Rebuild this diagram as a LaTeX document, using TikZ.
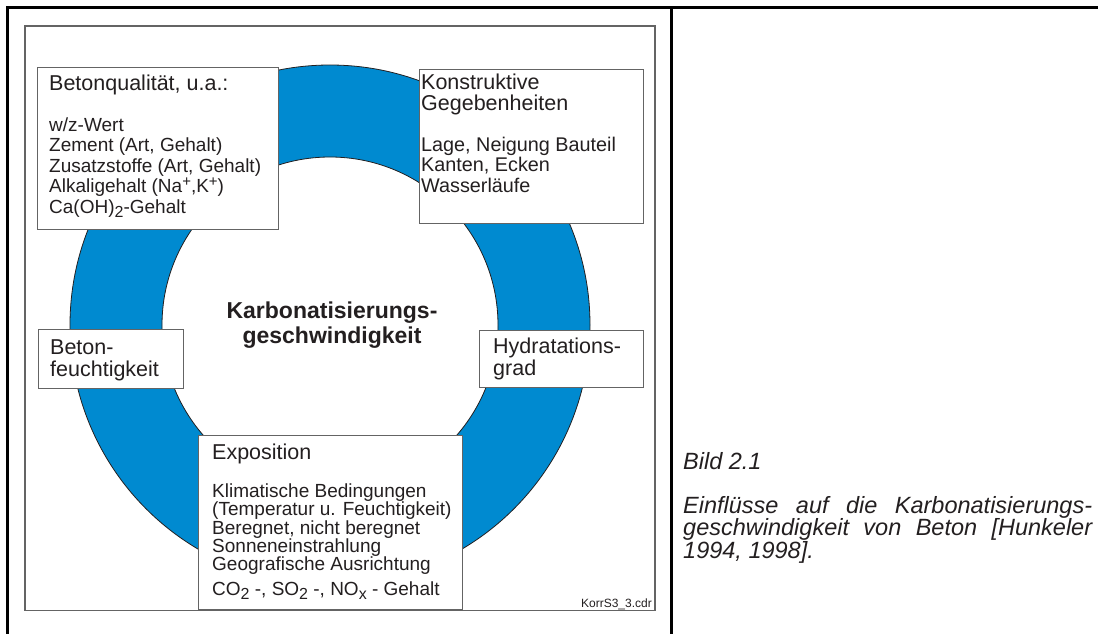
\documentclass[tikz,border=0pt]{standalone}
\usepackage{fontspec}
\setmainfont{Liberation Sans}
\usetikzlibrary{positioning}

\definecolor{ringblau}{RGB}{0,138,208}
\definecolor{schrift}{HTML}{231F20}
\definecolor{rahmengrau}{HTML}{646464}

\newcommand{\tiefzahl}[1]{\raisebox{-4pt}{\fontsize{16}{16}\selectfont #1}}
\newcommand{\hochzahl}[1]{\raisebox{6pt}{\fontsize{15}{15}\selectfont #1}}
\newcommand{\titelzeile}[1]{{\fontsize{21.5}{21.5}\selectfont #1}}

\tikzset{
    kasten/.style={
        draw=rahmengrau, line width=1.2pt, fill=white,
        inner sep=0pt, anchor=north west
    },
    kastentext/.style={
        text=schrift, align=left, inner sep=0pt, anchor=base west,
        font=\fontsize{19}{20.5}\selectfont
    },
}

\begin{document}
\begin{tikzpicture}[x=1pt, y=-1pt]
            \useasboundingbox (0,0) rectangle (1098,634);
            \draw [line width=3pt] (7.5,634) -- (7.5,7.5) -- (1098,7.5);
            \draw [line width=3pt] (671.5,7.5) -- (671.5,634);
            \draw [rahmengrau, line width=1.2pt] (25,26) rectangle (655,610.5);
            \filldraw [fill=ringblau, draw=schrift, line width=0.8pt, even odd rule]
                (330,325) circle (260pt)
                (330,325) circle (168pt)
            ;
            \node [kasten, minimum width=241pt, minimum height=162pt] (qualitaet) at (37,67) {};
            \node [kasten, minimum width=224pt, minimum height=154pt] (konstruktiv) at (419,69) {};
            \node [kasten, minimum width=145pt, minimum height=59pt] (feuchte) at (38,329) {};
            \node [kasten, minimum width=164pt, minimum height=57pt] (hydratation) at (479,330) {};
            \node [kasten, minimum width=264pt, minimum height=174pt] (exposition) at (198,435) {};
            \node [kastentext] (qualitaet-text) at ([xshift=12pt, yshift=-146pt]qualitaet.north west) {
                \titelzeile{Betonqualität, u.a.:}\\[20.5pt]
                w/z-Wert\\
                Zement (Art, Gehalt)\\
                Zusatzstoffe (Art, Gehalt)\\
                Alkaligehalt (Na\hochzahl{+},K\hochzahl{+})\\
                Ca(OH)\tiefzahl{2}-Gehalt
            };
            \node [kastentext, font=\fontsize{19.8}{20.5}\selectfont] (konstruktiv-text)
                at ([xshift=2pt, yshift=-123pt]konstruktiv.north west) {
                \titelzeile{Konstruktive}\\
                \titelzeile{Gegebenheiten}\\[20.5pt]
                Lage, Neigung Bauteil\\
                Kanten, Ecken\\
                Wasserläufe
            };
            \node [kastentext, font=\fontsize{21.5}{21.5}\selectfont] (feuchte-text)
                at ([xshift=12pt, yshift=-47pt]feuchte.north west) {
                Beton-\\
                feuchtigkeit
            };
            \node [kastentext, font=\fontsize{21.5}{22}\selectfont] (hydratation-text)
                at ([xshift=14pt, yshift=-45pt]hydratation.north west) {
                Hydratations-\\
                grad
            };
            \node [kastentext, font=\fontsize{19}{18.3}\selectfont] (exposition-text)
                at ([xshift=14pt, yshift=-160pt]exposition.north west) {
                \titelzeile{Exposition}\\[19.7pt]
                Klimatische Bedingungen\\
                (Temperatur u. Feuchtigkeit)\\
                Beregnet, nicht beregnet\\
                Sonneneinstrahlung\\
                Geografische Ausrichtung\\[6pt]
                CO\tiefzahl{2} -, SO\tiefzahl{2} -, NO\tiefzahl{x} - Gehalt
            };
            \node [text=schrift, align=center, inner sep=0pt, anchor=base,
                font=\fontsize{23}{25}\selectfont\bfseries] (karbonatisierung) at (332,343) {
                Karbonatisierungs-\\
                geschwindigkeit
            };
            \node [text=schrift, inner sep=0pt, anchor=base east,
                font=\fontsize{12}{12}\selectfont] (datei) at (652,607.5) {KorrS3\_3.cdr};
            \node [text=schrift, inner sep=0pt, anchor=base west,
                font=\fontsize{23.5}{21.5}\selectfont\itshape] (bild) at (683,469) {Bild 2.1};
            \node [text=schrift, inner sep=0pt, anchor=base west, text width=409pt, align=justify,
                font=\fontsize{23.5}{21.5}\selectfont\itshape] (bildtext) at (683,513) {
                Einflüsse auf die Karbonatisierungs-\linebreak
                geschwindigkeit von Beton [Hunkeler\linebreak
                1994, 1998].
            };
\end{tikzpicture}
\end{document}
